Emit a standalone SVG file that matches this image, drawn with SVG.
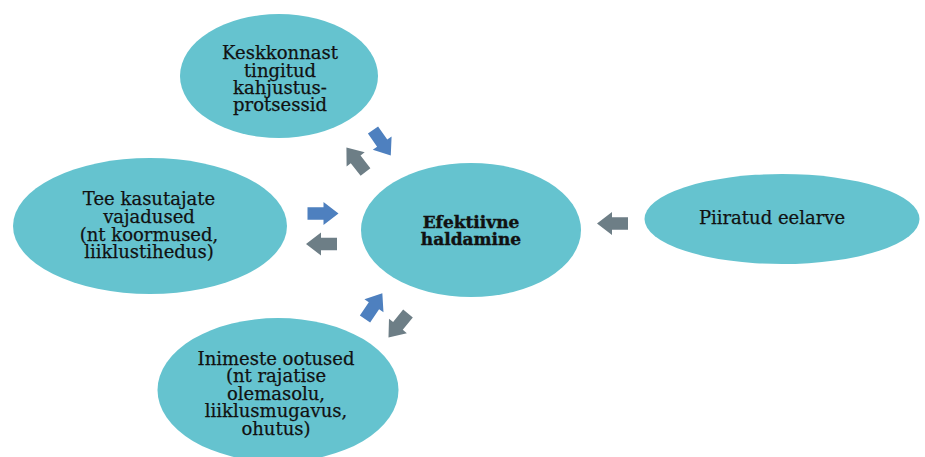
<svg xmlns="http://www.w3.org/2000/svg" width="925" height="457" viewBox="0 0 925 457">
  <defs>
    <!-- block arrow pointing along +x, tail at origin -->
    <path id="blk" d="M0,-6.2 L16,-6.2 L16,-11.5 L31,0 L16,11.5 L16,6.2 L0,6.2 Z"/>
    <style>
      .node { fill: #65C3CF; }
      .lbl { font-family: "DejaVu Serif", "Liberation Serif", serif; font-size: 18px; fill: #111; stroke: #111; stroke-width: 0.25; text-anchor: middle; }
      .bold { font-weight: bold; font-size: 17px; stroke-width: 0.4; }
      .in { fill: #4E80BF; }
      .out { fill: #6D7E86; }
    </style>
  </defs>
  <rect width="925" height="457" fill="#fff"/>

  <g id="node-keskkond">
    <ellipse class="node" cx="279" cy="76" rx="99" ry="62"/>
    <text class="lbl" x="280" y="59">Keskkonnast</text>
    <text class="lbl" x="280" y="76.5">tingitud</text>
    <text class="lbl" x="280" y="94">kahjustus-</text>
    <text class="lbl" x="280" y="111">protsessid</text>
  </g>

  <g id="node-kasutajad">
    <ellipse class="node" cx="150" cy="226" rx="137" ry="68"/>
    <text class="lbl" x="149" y="205">Tee kasutajate</text>
    <text class="lbl" x="149" y="223">vajadused</text>
    <text class="lbl" x="149" y="240.5">(nt koormused,</text>
    <text class="lbl" x="149" y="258">liiklustihedus)</text>
  </g>

  <g id="node-haldamine">
    <ellipse class="node" cx="471" cy="230" rx="110" ry="67"/>
    <text class="lbl bold" x="471" y="228">Efektiivne</text>
    <text class="lbl bold" x="471" y="245">haldamine</text>
  </g>

  <g id="node-eelarve">
    <ellipse class="node" cx="782" cy="219" rx="137.5" ry="45"/>
    <text class="lbl" x="772" y="224">Piiratud eelarve</text>
  </g>

  <g id="node-ootused">
    <ellipse class="node" cx="278" cy="390" rx="120.5" ry="72"/>
    <text class="lbl" x="276" y="365">Inimeste ootused</text>
    <text class="lbl" x="276" y="382">(nt rajatise</text>
    <text class="lbl" x="276" y="399.5">olemasolu,</text>
    <text class="lbl" x="276" y="417">liiklusmugavus,</text>
    <text class="lbl" x="276" y="435">ohutus)</text>
  </g>

  <g id="connectors">
    <!-- top pair -->
    <use href="#blk" class="in" transform="translate(373,130) rotate(55)"/>
    <use href="#blk" class="out" transform="translate(365.5,172) rotate(232)"/>
    <!-- left pair -->
    <use href="#blk" class="in" transform="translate(307.5,213.5)"/>
    <use href="#blk" class="out" transform="translate(337,244) rotate(180)"/>
    <!-- bottom pair -->
    <use href="#blk" class="in" transform="translate(365,319) rotate(-56)"/>
    <use href="#blk" class="out" transform="translate(408,313.5) rotate(129)"/>
    <!-- right -->
    <use href="#blk" class="out" transform="translate(628,223.5) rotate(180)"/>
  </g>
</svg>
